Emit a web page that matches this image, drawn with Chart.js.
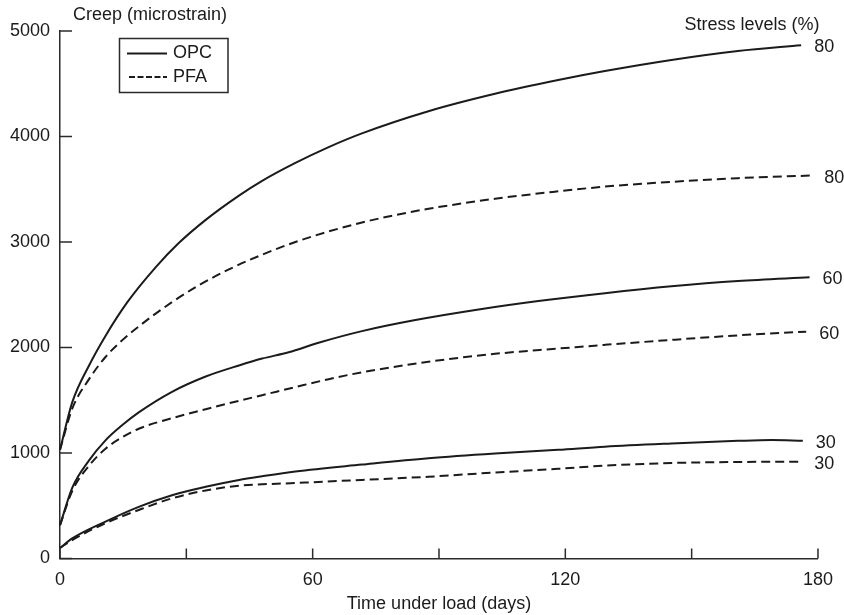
<!DOCTYPE html>
<html><head><meta charset="utf-8">
<script src="https://cdn.jsdelivr.net/npm/chart.js@4/dist/chart.umd.min.js"></script>
<style>html,body{margin:0;padding:0;background:#fff;}canvas{display:block;}</style>
</head><body>
<canvas id="c" width="844" height="615"></canvas>
<script>
// ---- data (days under load, creep in microstrain) ----
const days_OPC80  = [0, 2.9, 6.9, 10.8, 16, 22.7, 28.2, 34.6, 42.5, 48, 55.9, 63.8, 71.7, 87.5, 103.3, 118.3, 129.4, 145.2, 161, 176];
const creep_OPC80 = [1030, 1480, 1830, 2110, 2430, 2760, 2990, 3210, 3440, 3580, 3750, 3900, 4030, 4240, 4405, 4535, 4620, 4725, 4810, 4865];

const days_PFA80  = [0, 2.9, 6.9, 10.8, 14.8, 18.7, 26.6, 33, 40.1, 48, 55.9, 63.8, 71.7, 79.6, 87.5, 103.3, 118.3, 129.4, 145.2, 161, 178.4];
const creep_PFA80 = [1030, 1420, 1700, 1910, 2070, 2200, 2430, 2590, 2740, 2880, 3000, 3100, 3185, 3255, 3315, 3410, 3480, 3525, 3570, 3605, 3630];

const days_OPC60  = [0, 2.9, 6.9, 10.8, 14.8, 18.7, 26.6, 34.6, 42.5, 48, 54.3, 61.4, 71.7, 84.4, 99.4, 113.6, 129.4, 145.2, 161, 178];
const creep_OPC60 = [315, 670, 930, 1120, 1265, 1385, 1580, 1725, 1830, 1895, 1955, 2045, 2155, 2260, 2360, 2440, 2515, 2580, 2630, 2665];

const days_PFA60  = [0, 2.9, 6.9, 10.8, 14.8, 18.7, 26.6, 34.6, 42.5, 48, 55.9, 63.8, 71.7, 79.6, 87.5, 103.3, 118.3, 129.4, 145.2, 161, 177.2];
const creep_PFA60 = [315, 640, 880, 1040, 1150, 1230, 1330, 1415, 1495, 1548, 1625, 1700, 1765, 1818, 1865, 1940, 1990, 2025, 2072, 2115, 2150];

const days_OPC30  = [0, 2.9, 10.8, 18.7, 26.6, 34.6, 42.5, 48, 55.9, 71.7, 87.5, 103.3, 118.3, 129.4, 145.2, 161, 168.9, 176.4];
const creep_OPC30 = [100, 190, 350, 490, 600, 680, 745, 780, 825, 890, 950, 995, 1030, 1060, 1090, 1115, 1123, 1117];

const days_PFA30  = [0, 2.9, 10.8, 18.7, 26.6, 34.6, 42.5, 55.9, 71.7, 87.5, 103.3, 118.3, 129.4, 145.2, 161, 176];
const creep_PFA30 = [100, 175, 335, 460, 570, 645, 690, 715, 745, 775, 815, 850, 880, 905, 915, 918];

const stressLabels = ['80', '80', '60', '60', '30', '30'];
const cementTypes  = ['OPC', 'PFA'];
const xTickLabels  = [0, 60, 120, 180];
const xTickMarks   = [0, 30, 60, 90, 120, 150, 180];
const yTicks       = [0, 1000, 2000, 3000, 4000, 5000];
const yTitle = 'Creep (microstrain)';
const xTitle = 'Time under load (days)';
const stressTitle = 'Stress levels (%)';

// ---- styling ----
const FONT = '"Liberation Sans", Arial, Helvetica, sans-serif';
const INK = '#1b1b1b';
const AXIS = '#2a2a2a';
const DASH = [9, 5];

function pts(xs, ys) { return xs.map((x, i) => ({x: x, y: ys[i]})); }

const seriesDefs = [
  {type: 0, xs: days_OPC80, ys: creep_OPC80},
  {type: 1, xs: days_PFA80, ys: creep_PFA80},
  {type: 0, xs: days_OPC60, ys: creep_OPC60},
  {type: 1, xs: days_PFA60, ys: creep_PFA60},
  {type: 0, xs: days_OPC30, ys: creep_OPC30},
  {type: 1, xs: days_PFA30, ys: creep_PFA30}
];

const datasets = seriesDefs.map((s, i) => ({
  label: cementTypes[s.type] + ' ' + stressLabels[i],
  data: pts(s.xs, s.ys),
  borderColor: INK,
  borderWidth: 2,
  borderDash: s.type === 1 ? DASH : [],
  pointRadius: 0,
  fill: false,
  cubicInterpolationMode: 'monotone',
  clip: false
}));

const decor = {
  id: 'decor',
  afterDraw(chart) {
    const {ctx, chartArea: a, scales: {x, y}} = chart;
    ctx.save();
    // inward tick marks
    ctx.strokeStyle = AXIS; ctx.lineWidth = 1.5; ctx.setLineDash([]);
    yTicks.forEach(v => {
      const py = y.getPixelForValue(v);
      ctx.beginPath(); ctx.moveTo(a.left, py); ctx.lineTo(a.left + 12, py); ctx.stroke();
    });
    xTickMarks.forEach(v => {
      const px = x.getPixelForValue(v);
      ctx.beginPath(); ctx.moveTo(px, a.bottom); ctx.lineTo(px, a.bottom - 10); ctx.stroke();
    });
    // titles
    ctx.fillStyle = INK;
    ctx.font = '18px ' + FONT;
    ctx.textBaseline = 'middle';
    ctx.textAlign = 'center';
    ctx.fillText(yTitle, 150, 15);
    ctx.fillText(stressTitle, 752, 25);
    // legend box
    ctx.lineWidth = 1.5; ctx.strokeStyle = AXIS;
    ctx.strokeRect(119.5, 38.5, 108.5, 54);
    ctx.strokeStyle = INK; ctx.lineWidth = 2;
    ctx.beginPath(); ctx.moveTo(127, 53.5); ctx.lineTo(167, 53.5); ctx.stroke();
    ctx.setLineDash([6, 2.5]);
    ctx.beginPath(); ctx.moveTo(129, 77); ctx.lineTo(167, 77); ctx.stroke();
    ctx.setLineDash([]);
    ctx.textAlign = 'left';
    ctx.fillText(cementTypes[0], 173, 53);
    ctx.fillText(cementTypes[1], 173, 77);
    // stress level labels at line ends
    chart.data.datasets.forEach((ds, i) => {
      const meta = chart.getDatasetMeta(i);
      const last = meta.data[meta.data.length - 1];
      ctx.fillText(stressLabels[i], last.x + 13, last.y + 2);
    });
    ctx.restore();
  }
};

new Chart(document.getElementById('c'), {
  type: 'line',
  data: {datasets: datasets},
  options: {
    responsive: false,
    animation: false,
    devicePixelRatio: 1,
    layout: {padding: {left: 0, right: 24, top: 31, bottom: 0}},
    plugins: {legend: {display: false}, tooltip: {enabled: false}},
    scales: {
      x: {
        type: 'linear', min: 0, max: 180,
        afterBuildTicks: s => { s.ticks = xTickLabels.map(v => ({value: v})); },
        afterFit: s => { s.height = 56.5; },
        grid: {display: false, drawTicks: false},
        border: {display: true, color: AXIS, width: 1.5},
        ticks: {color: INK, font: {family: FONT, size: 18}, padding: 11, autoSkip: false, maxRotation: 0,
                callback: v => String(v)},
        title: {display: true, text: xTitle, color: INK, font: {family: FONT, size: 18}, padding: {top: 0, bottom: 0}}
      },
      y: {
        type: 'linear', min: 0, max: 5000,
        afterBuildTicks: s => { s.ticks = yTicks.map(v => ({value: v})); },
        afterFit: s => { s.width = 60; },
        grid: {display: false, drawTicks: false},
        border: {display: true, color: AXIS, width: 1.5},
        ticks: {color: INK, font: {family: FONT, size: 18}, padding: 10, callback: v => String(v)}
      }
    }
  },
  plugins: [decor]
});
</script>
</body></html>
